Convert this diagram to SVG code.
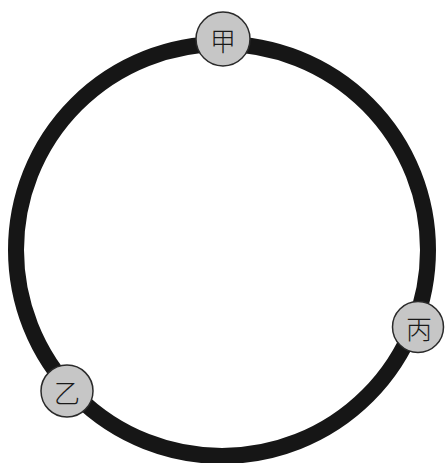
<svg xmlns="http://www.w3.org/2000/svg" width="445" height="463" viewBox="0 0 445 463">
<style>
.node circle{fill:#c6c6c6;stroke:#2a2a2a;stroke-width:1.5}
.node text{font-family:"Noto Sans CJK SC","Noto Sans CJK JP",sans-serif;font-size:26px;font-weight:300;fill:#1a1a1a;text-anchor:middle;dominant-baseline:central}
</style>
<rect width="445" height="463" fill="#ffffff"/>
<g id="connectors">
<circle cx="222" cy="250" r="206" fill="none" stroke="#161616" stroke-width="16"/>
</g>
<g id="jia" class="node"><circle cx="223" cy="39" r="27"/><text x="223" y="39">甲</text></g>
<g id="bing" class="node"><circle cx="418" cy="327" r="25.5"/><text x="419" y="327">丙</text></g>
<g id="yi" class="node"><circle cx="67" cy="391" r="26"/><text x="67" y="391">乙</text></g>
</svg>
